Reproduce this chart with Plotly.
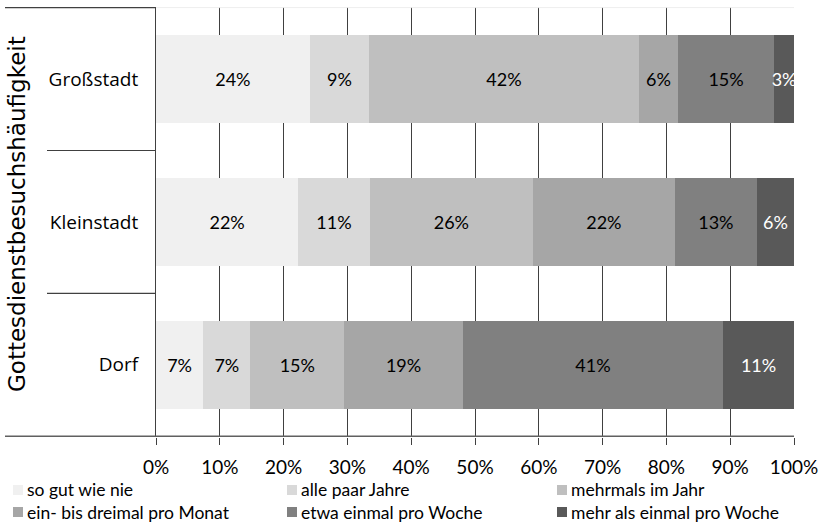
import plotly.graph_objects as go

categories = ["Großstadt", "Kleinstadt", "Dorf"]
series_names = ["so gut wie nie", "alle paar Jahre", "mehrmals im Jahr",
                "ein- bis dreimal pro Monat", "etwa einmal pro Woche", "mehr als einmal pro Woche"]
so_gut_wie_nie = [24.1, 22.3, 7.4]
alle_paar_jahre = [9.3, 11.2, 7.4]
mehrmals_im_jahr = [42.3, 25.6, 14.7]
ein_bis_dreimal = [6.1, 22.2, 18.6]
einmal_pro_woche = [15.1, 12.9, 40.8]
mehr_als_einmal = [3.1, 5.8, 11.1]
x_ticks = [0, 10, 20, 30, 40, 50, 60, 70, 80, 90, 100]
x_tick_labels = [f"{t}%" for t in x_ticks]
axis_title = "Gottesdienstbesuchshäufigkeit"

series_values = [so_gut_wie_nie, alle_paar_jahre, mehrmals_im_jahr,
                 ein_bis_dreimal, einmal_pro_woche, mehr_als_einmal]
colors = ["#f0f0f0", "#d9d9d9", "#bfbfbf", "#a6a6a6", "#808080", "#595959"]
text_colors = ["black", "black", "black", "black", "black", "white"]

NARROW = "Lato"
WIDE = "Open Sans"

W, H = 825, 524
L, R, T, B = 156, 31, 7, 87
PW, PH = W - L - R, H - T - B


def px_x(px):
    return (px - L) / PW


def px_y(py):
    return (H - B - py) / PH


fig = go.Figure()
for name, vals, col, tcol in zip(series_names, series_values, colors, text_colors):
    fig.add_trace(go.Bar(
        y=categories, x=vals, name=name, orientation="h",
        marker=dict(color=col, line=dict(width=0)),
        text=[f"{round(v)}%" for v in vals],
        textposition="inside", insidetextanchor="middle",
        textangle=0, constraintext="none",
        insidetextfont=dict(color=tcol, size=18, family=NARROW),
        width=0.62,
        hoverinfo="skip",
        showlegend=False,
    ))

shapes = []
annotations = []
# category separator lines (extend left past labels)
for yb in [0.5, 1.5]:
    shapes.append(dict(type="line", xref="paper", yref="y", x0=px_x(47), x1=0,
                       y0=yb, y1=yb, line=dict(color="#404040", width=1.2)))
# top border
shapes.append(dict(type="line", xref="paper", yref="y", x0=px_x(5), x1=0,
                   y0=-0.5, y1=-0.5, line=dict(color="#404040", width=1.2)))
shapes.append(dict(type="line", xref="paper", yref="y", x0=0, x1=1,
                   y0=-0.5, y1=-0.5, line=dict(color="#eeeeee", width=1)))
# bottom axis line extended
shapes.append(dict(type="line", xref="paper", yref="y", x0=px_x(5), x1=1,
                   y0=2.5, y1=2.5, line=dict(color="#606060", width=1.5)))

# manual legend (2 rows x 3 columns)
col_x = [13, 287, 557]
row_y = [490, 512]
for i, (name, col) in enumerate(zip(series_names, colors)):
    r, c = divmod(i, 3)
    mx, my = col_x[c], row_y[r]
    shapes.append(dict(type="rect", xref="paper", yref="paper",
                       x0=px_x(mx), x1=px_x(mx + 10), y0=px_y(my + 5), y1=px_y(my - 5),
                       fillcolor=col, line=dict(width=0)))
    annotations.append(dict(text=name, xref="paper", yref="paper",
                            x=px_x(mx + 13), y=px_y(my), xanchor="left", yanchor="middle",
                            showarrow=False, borderpad=0,
                            font=dict(size=17.5, family=NARROW, color="black")))

# y-axis title
annotations.append(dict(text=axis_title, xref="paper", yref="paper",
                        x=px_x(17), y=px_y(214), xanchor="center", yanchor="middle",
                        textangle=-90, showarrow=False,
                        font=dict(size=23, family="DejaVu Sans", color="black")))

fig.update_layout(
    barmode="stack",
    width=W, height=H,
    margin=dict(l=L, r=R, t=T, b=B, autoexpand=False),
    paper_bgcolor="white", plot_bgcolor="white",
    font=dict(family=NARROW, size=18, color="black"),
    shapes=shapes,
    annotations=annotations,
    showlegend=False,
)
fig.update_xaxes(range=[0, 100], tickvals=x_ticks, ticktext=x_tick_labels,
                 showgrid=True, gridcolor="#404040", gridwidth=1,
                 ticks="outside", ticklen=7, tickcolor="#404040",
                 showline=False, zeroline=False, fixedrange=True,
                 ticklabelstandoff=6,
                 tickfont=dict(size=19, family=NARROW), automargin=False)
fig.update_yaxes(categoryorder="array", categoryarray=categories,
                 autorange="reversed", showgrid=False, zeroline=False,
                 showline=True, linecolor="#404040", linewidth=1,
                 ticks="", ticklabelstandoff=13, automargin=False,
                 tickfont=dict(size=19, family=WIDE), fixedrange=True)

fig.write_html("out.html", config={"displayModeBar": False},
               post_script="document.body.style.margin='0';")
